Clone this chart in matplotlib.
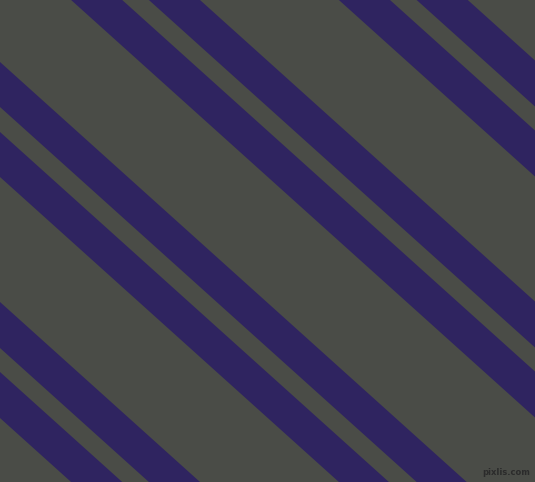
import numpy as np
import matplotlib
matplotlib.use("Agg")
import matplotlib.pyplot as plt

# picture size in pixels
width_px = 535
height_px = 482

# stripes run down-right, y = slope * x + intercept (y measured from the top)
slope = 0.9
stripe_starts = [-421, -351, -180, -110, 62, 132, 302, 372]
stripe_ends = [-375, -305, -134, -64, 107, 177, 348, 418]

bg_color = "#4a4c47"
stripe_color = "#2f2460"

fig = plt.figure(figsize=(width_px / 100, height_px / 100), dpi=100)
ax = fig.add_axes([0, 0, 1, 1])
ax.set_facecolor(bg_color)
fig.patch.set_facecolor(bg_color)

x = np.array([-20, width_px + 20])
for b0, b1 in zip(stripe_starts, stripe_ends):
    ax.fill_between(x, slope * x + b0, slope * x + b1, color=stripe_color, linewidth=0)

# little watermark, bottom right
ax.text(530, 475, "pixlis.com", ha="right", va="baseline", fontsize=6,
        color="#2b2b2b", fontweight="bold")

ax.set_xlim(0, width_px)
ax.set_ylim(height_px, 0)
ax.axis("off")

fig.savefig("out.png", dpi=100, facecolor=bg_color)
